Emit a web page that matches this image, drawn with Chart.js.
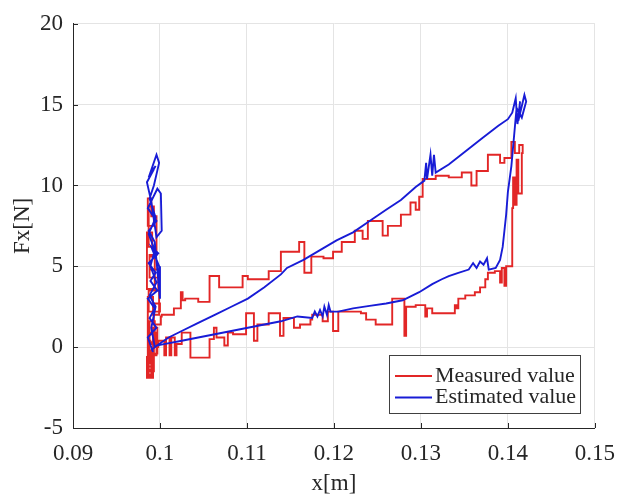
<!DOCTYPE html>
<html>
<head>
<meta charset="utf-8">
<script src="https://cdn.jsdelivr.net/npm/chart.js@4.4.1/dist/chart.umd.min.js"></script>
<style>
  html, body { margin: 0; padding: 0; background: #fff; }
  #wrap { width: 627px; height: 495px; }
</style>
</head>
<body>
<div id="wrap"><canvas id="fxChart" width="627" height="495"></canvas></div>
<script>
// Axis ticks
const xTickLabels = ['0.09', '0.1', '0.11', '0.12', '0.13', '0.14', '0.15'];
const yTickLabels = ['-5', '0', '5', '10', '15', '20'];

const seriesLabels = ['Measured value', 'Estimated value'];

// Measured value (read off the picture, in path order)
// left column -> upper branch -> right column -> lower branch -> left column
const redX = [
    0.0990, 0.0986, 0.0992, 0.0985, 0.0990, 0.0987, 0.0993, 0.0986, 0.0991, 0.0988,
    0.0994, 0.0988, 0.0996, 0.0986, 0.0992, 0.0999, 0.0988, 0.0994, 0.0985, 0.0991,
    0.0987, 0.0993, 0.0986, 0.0990, 0.0996, 0.0988, 0.0998, 0.0987, 0.1000, 0.0993,
    0.1001,
    0.1002, 0.1016, 0.1024, 0.1026, 0.1029, 0.1044, 0.1057, 0.1068, 0.1095, 0.1101,
    0.1125, 0.1139, 0.1160, 0.1166, 0.1174, 0.1188, 0.1199, 0.1209, 0.1224, 0.1233,
    0.1239, 0.1256, 0.1262, 0.1277, 0.1288, 0.1294, 0.1298, 0.1302, 0.1317, 0.1332,
    0.1347, 0.1358, 0.1364, 0.1377, 0.1391, 0.1396, 0.1404,
    0.1408, 0.1413, 0.1417, 0.1416, 0.1412, 0.1410, 0.1408, 0.1406, 0.1405,
    0.1405, 0.1398, 0.1396, 0.1393, 0.1391, 0.1385, 0.1377, 0.1374, 0.1368, 0.1362,
    0.1351, 0.1343, 0.1341, 0.1339, 0.1313, 0.1307, 0.1305, 0.1294, 0.1283, 0.1281,
    0.1267, 0.1248, 0.1237, 0.1231, 0.1205, 0.1199, 0.1193, 0.1187, 0.1175, 0.1173,
    0.1161, 0.1154, 0.1142, 0.1138, 0.1125, 0.1112, 0.1108, 0.1099, 0.1084, 0.1078,
    0.1074, 0.1065, 0.1062, 0.1057, 0.1035, 0.1025, 0.1019, 0.1017, 0.1013, 0.1011,
    0.1007, 0.1005,
    0.0998, 0.0992, 0.0997, 0.0988, 0.0993, 0.0986, 0.0991, 0.0987
];
const redY = [
    0.4, -1.2, -1.9, -0.6, -1.7, 0.3, -1.4, -0.2, -1.0, 1.6,
    0.2, 0.9, -0.5, 3.1, 2.0, 4.3, 5.6, 3.6, 7.1, 6.2,
    8.7, 7.5, 9.2, 8.1, 5.7, 4.8, 3.5, 2.2, 2.7, 1.4,
    1.9,
    2.0, 2.4, 3.4, 2.9, 3.0, 2.8, 4.4, 3.7, 4.4, 4.2,
    4.7, 5.9, 6.5, 4.6, 5.6, 5.5, 5.9, 6.5, 7.2, 6.7,
    7.8, 6.9, 7.5, 8.2, 8.95, 8.5, 9.3, 10.4, 10.6, 10.5,
    10.8, 10.0, 10.9, 11.9, 11.4, 11.7, 12.7,
    12.0, 12.5, 12.0, 9.5, 11.6, 8.8, 10.5, 8.6, 6.4,
    5.0, 3.8, 4.9, 4.0, 4.7, 4.6, 4.2, 3.7, 3.4, 3.2,
    3.0, 2.4, 2.6, 2.1, 2.4, 1.9, 2.6, 2.5, 0.7, 3.0,
    1.4, 1.7, 2.1, 2.2, 1.0, 2.2, 1.6, 2.0, 1.7, 1.4,
    1.2, 1.8, 0.7, 2.1, 1.4, 0.4, 2.1, 0.8, 0.9, 0.1,
    0.6, 1.2, 0.5, -0.65, 0.9, 0.2, -0.5, 0.6, -0.5, 0.6,
    -0.5, 0.4,
    0.0, 1.2, -0.4, 0.8, -1.5, -0.3, -1.8, 0.5
];

// Estimated value (in path order)
const blueX = [
    0.0992, 0.0986, 0.0996, 0.0988, 0.0994, 0.0986, 0.0997, 0.0989, 0.0995, 0.0987,
    0.0998, 0.0990, 0.0999, 0.1000, 0.0994, 0.0987, 0.0996, 0.0986, 0.0997, 0.1001,
    0.1002, 0.0996, 0.0990, 0.0985, 0.0993, 0.0987, 0.0995, 0.0989, 0.0996, 0.0999,
    0.0993, 0.0988, 0.0995, 0.0987, 0.0994, 0.0989, 0.0996, 0.0988, 0.0995, 0.0990,
    0.0994,
    0.0999, 0.1010, 0.1025, 0.1044, 0.1063, 0.1082, 0.1101, 0.1120, 0.1139, 0.1146,
    0.1165, 0.1184, 0.1203, 0.1222, 0.1241, 0.1260, 0.1277, 0.1294, 0.1304, 0.1306,
    0.1307, 0.1311, 0.1313, 0.1315, 0.1317, 0.1332, 0.1351, 0.1370, 0.1389, 0.1400,
    0.1405, 0.1409, 0.1411, 0.1414, 0.1412, 0.1419, 0.1421, 0.1416, 0.1410, 0.1408,
    0.1404, 0.1400, 0.1398, 0.1396, 0.1394, 0.1391, 0.1386, 0.1378, 0.1376, 0.1372,
    0.1368, 0.1364, 0.1360, 0.1355, 0.1343, 0.1332, 0.1324, 0.1313, 0.1298, 0.1279,
    0.1260, 0.1241, 0.1222, 0.1205, 0.1196, 0.1194, 0.1192, 0.1189, 0.1187, 0.1184,
    0.1181, 0.1178, 0.1175, 0.1158, 0.1139, 0.1120, 0.1101, 0.1082, 0.1063, 0.1044,
    0.1025, 0.1006, 0.0996, 0.0990
];
const blueY = [
    -0.3, 0.6, 1.2, 1.8, 2.4, 3.0, 3.5, 4.1, 4.6, 5.2,
    5.8, 6.2, 5.0, 3.0, 6.5, 7.2, 7.8, 8.6, 9.8, 9.5,
    7.2, 6.8, 9.0, 10.2, 11.0, 10.5, 11.2, 10.8, 11.9, 11.4,
    10.0, 9.2, 8.0, 7.0, 6.0, 5.0, 4.0, 3.2, 2.5, 1.2,
    0.0,
    0.2, 0.6, 1.0, 1.5, 2.0, 2.5, 3.0, 3.7, 4.5, 4.9,
    5.4, 6.0, 6.6, 7.1, 7.8, 8.5, 9.1, 9.9, 10.3, 11.4,
    10.4, 11.9, 10.6, 11.9, 10.8, 11.3, 12.1, 12.9, 13.7, 14.1,
    14.5, 15.4, 13.8, 15.2, 14.0, 15.6, 15.2, 14.2, 14.8, 13.6,
    11.2, 9.6, 8.2, 7.2, 6.2, 5.4, 4.9, 4.8, 5.5, 5.1,
    5.3, 4.9, 5.2, 4.8, 4.6, 4.4, 4.2, 3.9, 3.4, 2.9,
    2.7, 2.55, 2.4, 2.2, 2.2, 2.6, 2.0, 2.5, 1.9, 2.3,
    1.9, 2.2, 1.8, 1.9, 1.6, 1.4, 1.2, 1.0, 0.8, 0.6,
    0.4, 0.2, 0.1, -0.2
];

const textColor = '#262626';
const serif = '"Liberation Serif", "Times New Roman", serif';

function toPoints(xs, ys) {
    return xs.map((x, i) => ({ x: x, y: ys[i] }));
}

// Inward ticks (MATLAB style) and the boxed legend in the lower right corner
const matlabFrame = {
    id: 'matlabFrame',
    afterDraw(chart) {
        const ctx = chart.ctx;
        const a = chart.chartArea;
        const xs = chart.scales.x;
        const ys = chart.scales.y;
        ctx.save();
        ctx.strokeStyle = textColor;
        ctx.lineWidth = 1;
        ctx.beginPath();
        xs.ticks.forEach(t => {
            const px = Math.round(xs.getPixelForValue(t.value)) + 0.5;
            ctx.moveTo(px, a.bottom);
            ctx.lineTo(px, a.bottom - 5);
        });
        ys.ticks.forEach(t => {
            const py = Math.round(ys.getPixelForValue(t.value)) + 0.5;
            ctx.moveTo(a.left, py);
            ctx.lineTo(a.left + 5, py);
        });
        ctx.stroke();

        // legend
        const w = 191, h = 58;
        const bx = Math.round(a.right - 15 - w);
        const by = Math.round(a.bottom - 15 - h);
        ctx.fillStyle = '#fff';
        ctx.fillRect(bx, by, w, h);
        ctx.strokeStyle = '#404040';
        ctx.strokeRect(bx + 0.5, by + 0.5, w, h);
        ctx.font = '22px ' + serif;
        ctx.textBaseline = 'middle';
        chart.data.datasets.forEach((ds, i) => {
            const cy = by + 21 + i * 21.5;
            ctx.strokeStyle = ds.borderColor;
            ctx.lineWidth = 1.8;
            ctx.beginPath();
            ctx.moveTo(bx + 6, cy);
            ctx.lineTo(bx + 43, cy);
            ctx.stroke();
            ctx.fillStyle = textColor;
            ctx.fillText(ds.label, bx + 46, cy);
        });
        ctx.restore();
    }
};

const fxChart = new Chart(document.getElementById('fxChart'), {
    type: 'scatter',
    data: {
        datasets: [
            {
                label: seriesLabels[0],
                data: toPoints(redX, redY),
                showLine: true,
                stepped: true,
                borderColor: 'rgb(226, 38, 38)',
                borderWidth: 1.9,
                pointRadius: 0,
                order: 2
            },
            {
                label: seriesLabels[1],
                data: toPoints(blueX, blueY),
                showLine: true,
                borderColor: 'rgb(24, 28, 214)',
                borderWidth: 1.9,
                pointRadius: 0,
                order: 1
            }
        ]
    },
    options: {
        responsive: false,
        animation: false,
        layout: { padding: { top: 19, right: 26, left: 0, bottom: 0 } },
        plugins: {
            legend: { display: false },
            tooltip: { enabled: false }
        },
        scales: {
            x: {
                type: 'linear',
                min: 0.09,
                max: 0.15,
                afterFit: s => { s.height = 67; },
                ticks: {
                    stepSize: 0.01,
                    padding: 12,
                    color: textColor,
                    font: { family: serif, size: 23 },
                    maxRotation: 0,
                    callback: (v, i) => xTickLabels[i]
                },
                grid: { color: '#e4e4e4', drawTicks: false },
                border: { color: textColor, width: 1 },
                title: {
                    display: true,
                    text: 'x[m]',
                    color: textColor,
                    font: { family: serif, size: 23, lineHeight: 1 },
                    padding: { top: 0, bottom: 0 }
                }
            },
            y: {
                type: 'linear',
                min: -5,
                max: 20,
                afterFit: s => { s.width = 73; },
                ticks: {
                    stepSize: 5,
                    padding: 10,
                    color: textColor,
                    font: { family: serif, size: 23 },
                    callback: (v, i) => yTickLabels[i]
                },
                grid: { color: '#e4e4e4', drawTicks: false },
                border: { color: textColor, width: 1 },
                title: {
                    display: true,
                    text: 'Fx[N]',
                    color: textColor,
                    font: { family: serif, size: 23, lineHeight: 1 },
                    padding: { top: 11, bottom: 0 }
                }
            }
        }
    },
    plugins: [matlabFrame]
});
</script>
</body>
</html>
